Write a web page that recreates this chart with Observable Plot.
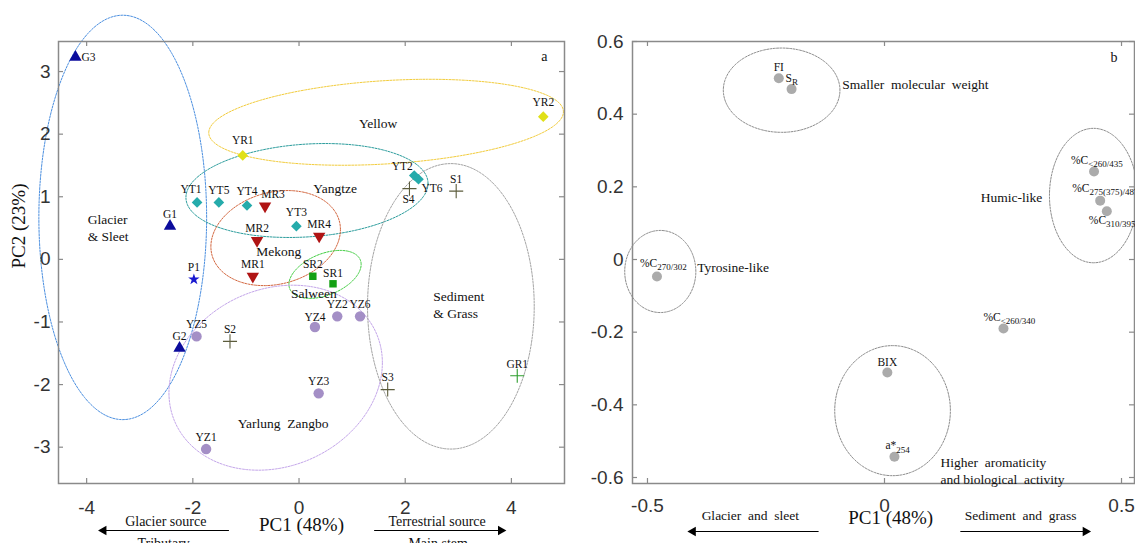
<!DOCTYPE html>
<html>
<head>
<meta charset="utf-8">
<script src="https://cdn.jsdelivr.net/npm/d3@7"></script>
<script src="https://cdn.jsdelivr.net/npm/@observablehq/plot@0.6"></script>
<style>
  html, body { margin: 0; padding: 0; background: #fff; }
  #wrap { display: flex; width: 1135px; height: 543px; overflow: hidden; }
  #wrap svg { display: block; overflow: visible; }
</style>
</head>
<body>
<div id="wrap"></div>
<script>
// ---------------- Panel a data ----------------
const samplesA = ["G1","G2","G3","P1","YR1","YR2","YT1","YT2","YT3","YT4","YT5","YT6",
  "MR1","MR2","MR3","MR4","SR1","SR2","YZ1","YZ2","YZ3","YZ4","YZ5","YZ6","S1","S2","S3","S4","GR1"];
const groupA = ["G","G","G","P","YR","YR","YT","YT","YT","YT","YT","YT",
  "MR","MR","MR","MR","SR","SR","YZ","YZ","YZ","YZ","YZ","YZ","S","S","S","S","GR"];
const pc1A = [-2.43,-2.25,-4.21,-1.98,-1.06,4.60,-1.92,2.17,-0.05,-0.98,-1.51,2.25,
  -0.87,-0.79,-0.64,0.38,0.64,0.26,-1.75,0.72,0.37,0.30,-1.93,1.15,2.96,-1.30,1.67,2.08,4.11];
const pc2A = [0.53,-1.42,3.23,-0.32,1.66,2.28,0.91,1.34,0.53,0.86,0.91,1.28,
  -0.27,0.30,0.85,0.37,-0.39,-0.27,-3.03,-0.91,-2.14,-1.08,-1.23,-0.91,1.09,-1.31,-2.08,1.13,-1.86];
const xTicksA = [-4,-2,0,2,4];
const yTicksA = [-3,-2,-1,0,1,2,3];
// cluster ellipses (data units): centre, half-widths, tilt (shear)
const ellipsesA = [
  {name:"Glacier", cx:-3.32, cy:0.67, rx:1.58, ry:3.23, tilt:0},
  {name:"Yellow", cx:1.64, cy:2.19, rx:3.34, ry:0.666, tilt:0.05},
  {name:"Yangtze", cx:0.15, cy:1.10, rx:2.28, ry:0.742, tilt:0.049},
  {name:"Mekong", cx:-0.44, cy:0.34, rx:1.22, ry:0.747, tilt:0.112},
  {name:"Salween", cx:0.49, cy:-0.24, rx:0.68, ry:0.348, tilt:0.235},
  {name:"Yarlung", cx:-0.44, cy:-1.89, rx:2.01, ry:1.458, tilt:0.119},
  {name:"Sediment", cx:2.86, cy:-0.75, rx:1.57, ry:2.28, tilt:0}
];
const groupLabelsA = ["Glacier\n& Sleet","Yellow","Yangtze","Mekong","Salween","Sediment\n& Grass","Yarlung  Zangbo"];
const groupLabelXA = [-3.98, 1.49, 0.68, -0.38, 0.28, 2.53, -0.30];
const groupLabelYA = [0.515, 2.19, 1.15, 0.14, -0.53, -0.72, -2.60];

// ---------------- Panel b data ----------------
const varsB = ["FI","S","%C","%C","%C","%C","%C","BIX","a*"];
const varSubB = ["","R","270/302","<260/435","275(375)/487","310/395","<260/340","","254"];
const pc1B = [-0.223,-0.196,-0.48,0.442,0.455,0.469,0.251,0.006,0.021];
const pc2B = [0.499,0.469,-0.047,0.242,0.162,0.133,-0.19,-0.311,-0.543];
const xTicksB = [-0.5,0,0.5];
const yTicksB = [-0.6,-0.4,-0.2,0,0.2,0.4,0.6];
const ellipsesB = [
  {name:"Smaller", cx:-0.217, cy:0.466, rx:0.123, ry:0.116, tilt:0},
  {name:"Tyrosine", cx:-0.473, cy:-0.033, rx:0.075, ry:0.113, tilt:0},
  {name:"Humic", cx:0.441, cy:0.176, rx:0.093, ry:0.185, tilt:0},
  {name:"Aromatic", cx:0.017, cy:-0.416, rx:0.122, ry:0.179, tilt:0}
];
const groupLabelsB = ["Smaller  molecular  weight","Tyrosine-like","Humic-like","Higher  aromaticity\nand biological  activity"];
const groupLabelXB = [-0.089, -0.395, 0.333, 0.118];
const groupLabelYB = [0.485, -0.019, 0.174, -0.58];

// ---------------- styles ----------------
const SERIF = "'Times New Roman','Liberation Serif',serif";
const SANS = "Arial,'Liberation Sans',sans-serif";
const FRAME = "#8a8a8a";
const TICKTXT = "#333";
const TICKFONT = 19;

const groupStyle = {
  G:  {symbol:"triangle", fill:"#0c0c9c", r:4.6},
  P:  {symbol:"star", fill:"#1818d0", r:3.6},
  YR: {symbol:"diamond2", fill:"#e0e018", r:4.8},
  YT: {symbol:"diamond2", fill:"#25abab", r:4.8},
  MR: {symbol:"triangle", fill:"#b01414", r:4.6, rotate:180},
  SR: {symbol:"square", fill:"#14a014", r:4.2},
  YZ: {symbol:"circle", fill:"#a48fc6", r:5.2},
  S:  {symbol:"plus", stroke:"#5c5c3c", r:4.6},
  GR: {symbol:"plus", stroke:"#2e9e2e", r:4.6}
};
const ellColorA = {Glacier:"#4b8fe0", Yellow:"#f2cc3c", Yangtze:"#2a9c9c", Mekong:"#d2643c",
  Salween:"#3ccc3c", Yarlung:"#c4a6ea", Sediment:"#a4a4a4"};
const labelPlaceA = {
  G3:{textAnchor:"start", dx:6, dy:0}, YT1:{dx:-6, dy:-13}, MR3:{dx:8, dy:-12},
  YT2:{dx:-12, dy:-9}, YT6:{textAnchor:"start", dx:3, dy:9}, S4:{dx:-1, dy:11},
  YR1:{dy:-15}, YR2:{dy:-14}, YT4:{dy:-14}, YT3:{dy:-14}, SR1:{dy:-10}, YZ4:{dy:-10}
};
const labelPlaceB = [
  {textAnchor:"middle", dx:0, dy:-11}, {textAnchor:"start", dx:-6, dy:-11},
  {textAnchor:"start", dx:-17, dy:-13}, {textAnchor:"start", dx:-23, dy:-11},
  {textAnchor:"start", dx:-28, dy:-12}, {textAnchor:"start", dx:-18, dy:9},
  {textAnchor:"start", dx:-20, dy:-11}, {textAnchor:"middle", dx:0, dy:-10},
  {textAnchor:"start", dx:-9, dy:-11}
];

// ---------------- helpers ----------------
function ellipsePts(e, n = 160) {
  return d3.range(n).map(i => {
    const t = 2 * Math.PI * i / n;
    return {x: e.cx + e.rx * Math.cos(t), y: e.cy + e.ry * Math.sin(t) + e.tilt * e.rx * Math.cos(t)};
  });
}
function ellipseMark(e, color) {
  return Plot.line(ellipsePts(e), {x:"x", y:"y", curve:"linear-closed", stroke:color,
    strokeWidth:1, strokeDasharray:"2,1.3"});
}
function frameTicks(xt, yt, plotW, plotH) {
  const s = {stroke: FRAME, strokeWidth: 1.2};
  return [
    Plot.tickX(xt, {x: d => d, insetTop: plotH - 5, ...s}),
    Plot.tickX(xt, {x: d => d, insetBottom: plotH - 5, ...s}),
    Plot.tickY(yt, {y: d => d, insetRight: plotW - 5, ...s}),
    Plot.tickY(yt, {y: d => d, insetLeft: plotW - 5, ...s})
  ];
}
function arrowMarks(x1, x2, headX, dir, dy, yMin) {
  return [
    Plot.link([0], {x1: () => x1, x2: () => x2, y1: () => yMin, y2: () => yMin, dy, stroke:"#000", strokeWidth:1}),
    Plot.dot([0], {x: () => headX, y: () => yMin, dy, symbol:"triangle", rotate: dir, r:3.6, fill:"#000"})
  ];
}
function subscripts(svg) {
  svg.querySelectorAll("text").forEach(t => {
    if (t.querySelector("tspan")) return;
    const s = t.textContent, i = s.indexOf("_");
    if (i < 0) return;
    t.textContent = "";
    const ns = "http://www.w3.org/2000/svg";
    const a = document.createElementNS(ns, "tspan"); a.textContent = s.slice(0, i);
    const b = document.createElementNS(ns, "tspan"); b.textContent = s.slice(i + 1);
    b.setAttribute("font-size", "9"); b.setAttribute("dy", "0.35em");
    t.append(a, b);
  });
}

// ---------------- Panel a ----------------
const dataA = samplesA.map((s, i) => ({name: s, group: groupA[i], x: pc1A[i], y: pc2A[i]}));
const HA = 543, WA = 580, mA = {l:58, r:16, t:41, b:60};
const plotWA = WA - mA.l - mA.r, plotHA = HA - mA.t - mA.b;
const yMinA = -3.58;

const dotMarksA = Object.keys(groupStyle).map(g => {
  const st = groupStyle[g];
  const opts = {x:"x", y:"y", symbol: st.symbol, r: st.r};
  if (st.fill) { opts.fill = st.fill; opts.stroke = "none"; }
  if (st.stroke) { opts.stroke = st.stroke; opts.strokeWidth = 1.1; }
  if (st.rotate) opts.rotate = st.rotate;
  return Plot.dot(dataA.filter(d => d.group === g), opts);
});
const labelMarksA = dataA.map(d => {
  const p = Object.assign({textAnchor:"middle", dx:0, dy:-12}, labelPlaceA[d.name] || {});
  return Plot.text([d], {x:"x", y:"y", text:"name", ...p, fontSize:11.5, fontFamily:SERIF, fill:"#111"});
});
const groupTextA = groupLabelsA.map((t, i) => Plot.text([t], {
  x: () => groupLabelXA[i], y: () => groupLabelYA[i], text: d => d,
  textAnchor: (i === 0 || i === 5) ? "start" : "middle", lineHeight: 1.25,
  fontSize: 13.5, fontFamily: SERIF, fill: "#111"
}));

const plotA = Plot.plot({
  width: WA, height: HA,
  marginLeft: mA.l, marginRight: mA.r, marginTop: mA.t, marginBottom: mA.b,
  x: {domain: [-4.53, 5.0]},
  y: {domain: [yMinA, 3.48]},
  style: {background: "transparent", overflow: "visible"},
  marks: [
    ...ellipsesA.map(e => ellipseMark(e, ellColorA[e.name])),
    Plot.frame({stroke: FRAME, strokeWidth: 1.5}),
    ...frameTicks(xTicksA, yTicksA, plotWA, plotHA),
    Plot.axisX({ticks: xTicksA, tickSize: 0, tickPadding: 17, tickFormat: d => String(d),
      fontSize: TICKFONT, fontFamily: SANS, color: TICKTXT, label: null}),
    Plot.axisY({ticks: yTicksA, tickSize: 0, tickPadding: 8, tickFormat: d => String(d),
      fontSize: TICKFONT, fontFamily: SANS, color: TICKTXT, label: null}),
    ...dotMarksA,
    ...labelMarksA,
    ...groupTextA,
    Plot.text(["a"], {frameAnchor:"top-right", dx:-17, dy:10, fontSize:14, fontFamily:SERIF, fill:"#111"}),
    Plot.text(["PC1 (48%)"], {frameAnchor:"bottom", dx:-10, dy:47, fontSize:19, fontFamily:SERIF, fill:"#111"}),
    Plot.text(["PC2 (23%)"], {frameAnchor:"left", dx:-40, dy:6, rotate:-90, fontSize:19, fontFamily:SERIF, fill:"#111"}),
    // direction annotations
    ...arrowMarks(-1.32, -3.72, -3.68, -90, 47, yMinA),
    ...arrowMarks(1.415, 3.84, 3.80, 90, 47, yMinA),
    Plot.text(["Glacier source"], {x: () => -2.51, frameAnchor:"bottom", dy:42, fontSize:14, fontFamily:SERIF, fill:"#111"}),
    Plot.text(["Tributary"], {x: () => -2.55, frameAnchor:"bottom", dy:55, lineAnchor:"top", fontSize:14, fontFamily:SERIF, fill:"#111"}),
    Plot.text(["Terrestrial source"], {x: () => 2.60, frameAnchor:"bottom", dy:42, fontSize:14, fontFamily:SERIF, fill:"#111"}),
    Plot.text(["Main stem"], {x: () => 2.62, frameAnchor:"bottom", dy:55, lineAnchor:"top", fontSize:14, fontFamily:SERIF, fill:"#111"})
  ]
});

// ---------------- Panel b ----------------
const dataB = varsB.map((v, i) => ({label: varSubB[i] ? v + "_" + varSubB[i] : v, x: pc1B[i], y: pc2B[i]}));
const HB = 543, WB = 555, mB = {l:52, r:1, t:41, b:60};
const plotWB = WB - mB.l - mB.r, plotHB = HB - mB.t - mB.b;
const yMinB = -0.6165;

const plotB = Plot.plot({
  width: WB, height: HB,
  marginLeft: mB.l, marginRight: mB.r, marginTop: mB.t, marginBottom: mB.b,
  x: {domain: [-0.5316, 0.5274]},
  y: {domain: [yMinB, 0.6]},
  style: {background: "transparent", overflow: "visible"},
  marks: [
    ...ellipsesB.map(e => ellipseMark(e, "#8c8c8c")),
    Plot.frame({stroke: FRAME, strokeWidth: 1.5}),
    ...frameTicks(xTicksB, yTicksB, plotWB, plotHB),
    Plot.axisX({ticks: xTicksB, tickSize: 0, tickPadding: 15, tickFormat: d => String(d),
      fontSize: TICKFONT, fontFamily: SANS, color: TICKTXT, label: null}),
    Plot.axisY({ticks: yTicksB, tickSize: 0, tickPadding: 9, tickFormat: d => String(d),
      fontSize: TICKFONT, fontFamily: SANS, color: TICKTXT, label: null}),
    Plot.dot(dataB, {x:"x", y:"y", r:5, fill:"#ababab", stroke:"none"}),
    ...dataB.map((d, i) => Plot.text([d], {x:"x", y:"y", text:"label", ...labelPlaceB[i],
      fontSize:11.5, fontFamily:SERIF, fill:"#111"})),
    ...groupLabelsB.map((t, i) => Plot.text([t], {
      x: () => groupLabelXB[i], y: () => groupLabelYB[i], text: d => d,
      textAnchor: i === 2 ? "end" : "start", lineHeight: 1.25,
      fontSize: 13.5, fontFamily: SERIF, fill: "#111"})),
    Plot.text(["b"], {frameAnchor:"top-right", dx:-17, dy:11, fontSize:14, fontFamily:SERIF, fill:"#111"}),
    Plot.text(["PC1 (48%)"], {x: () => 0.013, frameAnchor:"bottom", dy:40, fontSize:19, fontFamily:SERIF, fill:"#111"}),
    ...arrowMarks(-0.139, -0.408, -0.404, -90, 48, yMinB),
    ...arrowMarks(0.160, 0.428, 0.424, 90, 48, yMinB),
    Plot.text(["Glacier  and  sleet"], {x: () => -0.283, frameAnchor:"bottom", dy:36, fontSize:13.5, fontFamily:SERIF, fill:"#111"}),
    Plot.text(["Sediment  and  grass"], {x: () => 0.287, frameAnchor:"bottom", dy:36, fontSize:13.5, fontFamily:SERIF, fill:"#111"})
  ]
});
subscripts(plotB);

const wrap = document.getElementById("wrap");
wrap.append(plotA, plotB);
</script>
</body>
</html>
